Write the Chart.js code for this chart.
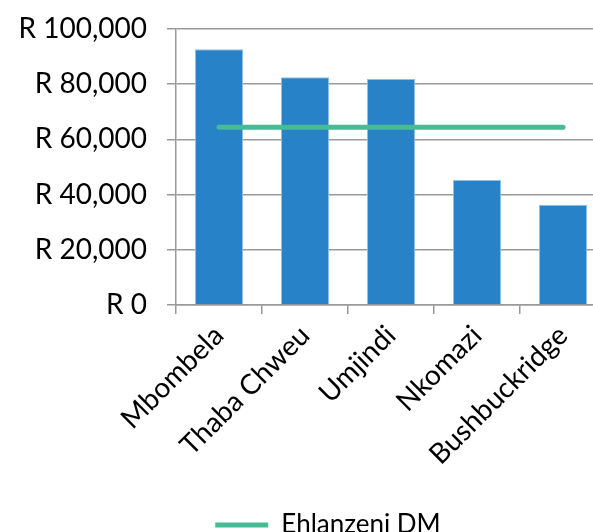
<!DOCTYPE html>
<html>
<head>
<meta charset="utf-8">
<script src="https://cdn.jsdelivr.net/npm/chart.js@4"></script>
<style>
  html, body { margin: 0; padding: 0; background: #fff; overflow: hidden; width: 593px; height: 532px; }
  #wrap { position: absolute; left: 0; top: 0; }
</style>
</head>
<body>
<div id="wrap"><canvas id="chart" width="606" height="548"></canvas></div>
<script>
// Municipalities (categories)
const categories = ['Mbombela', 'Thaba Chweu', 'Umjindi', 'Nkomazi', 'Bushbuckridge'];
// Bar values per municipality (R)
const municipalValues = [92700, 82500, 81900, 45300, 36300];
// District value, repeated across categories
const districtLabel = 'Ehlanzeni DM';
const districtValues = [64400, 64400, 64400, 64400, 64400];
// y axis ticks
const yMin = 0;
const yMax = 100000;
const yStep = 20000;

const fontFamily = 'Lato, "Open Sans", sans-serif';

// nudge the legend a little to the right, like the original
const legendShift = {
  id: 'legendShift',
  afterLayout(chart) {
    const lg = chart.legend;
    if (lg) { lg.left += 25; lg.right += 25; }
  }
};

new Chart(document.getElementById('chart'), {
  data: {
    labels: categories,
    datasets: [
      {
        type: 'line',
        label: districtLabel,
        data: districtValues,
        borderColor: '#46BB95',
        backgroundColor: '#46BB95',
        borderWidth: 5,
        borderCapStyle: 'round',
        pointRadius: 0,
        order: 0
      },
      {
        type: 'bar',
        label: 'Municipality',
        data: municipalValues,
        backgroundColor: '#2882C7',
        borderColor: '#8CC0E8',
        borderWidth: 1,
        barPercentage: 0.56,
        categoryPercentage: 1,
        order: 1
      }
    ]
  },
  options: {
    responsive: false,
    animation: false,
    layout: { padding: { top: 29, left: 0, right: 0, bottom: 0 } },
    plugins: {
      tooltip: { enabled: false },
      legend: {
        position: 'bottom',
        labels: {
          filter: item => item.text === districtLabel,
          usePointStyle: true,
          pointStyle: 'line',
          pointStyleWidth: 53,
          color: '#000',
          font: { family: fontFamily, size: 26 },
          padding: 8
        }
      }
    },
    scales: {
      x: {
        afterFit: scale => { scale.height = 199; },
        grid: { drawOnChartArea: false, drawTicks: true, tickLength: 9, color: '#999', lineWidth: 1.5, offset: true },
        border: { display: true, color: '#999', width: 1.5 },
        ticks: {
          color: '#000',
          font: { family: fontFamily, size: 28 },
          minRotation: 45,
          maxRotation: 45,
          padding: 5
        }
      },
      y: {
        min: yMin,
        max: yMax,
        afterFit: scale => {
          scale.width = 176;
          scale.paddingTop = 0;
          scale.paddingBottom = 0;
        },
        grid: { color: '#999', lineWidth: 1.5, tickLength: 9 },
        border: { display: true, color: '#999', width: 1.5 },
        ticks: {
          stepSize: yStep,
          color: '#000',
          font: { family: fontFamily, size: 28 },
          padding: 20,
          callback: v => 'R ' + v.toLocaleString('en-US')
        }
      }
    }
  },
  plugins: [legendShift]
});
</script>
</body>
</html>
